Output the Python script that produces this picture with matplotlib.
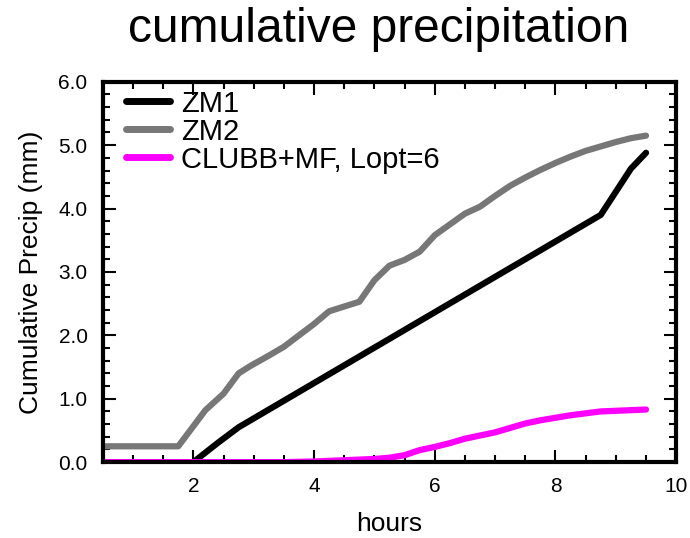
import numpy as np
import matplotlib
matplotlib.use("Agg")
from matplotlib import pyplot as plt
from matplotlib.ticker import MultipleLocator, FormatStrFormatter

plt.rcParams['font.family'] = ['Liberation Sans', 'DejaVu Sans']

# ZM1 (black)
zm1_hours = [0.5, 1.0, 1.5, 2.0, 2.4, 2.75, 8.75, 9.25, 9.5]
zm1_precip = [0.0, 0.0, 0.0, 0.0, 0.30, 0.55, 3.90, 4.63, 4.88]

# ZM2 (gray)
zm2_hours = [0.5, 1.0, 1.5, 1.75, 2.2, 2.5, 2.75, 2.95, 3.25, 3.5, 3.75, 4.0, 4.25, 4.75, 5.0,
             5.25, 5.5, 5.75, 6.0, 6.25, 6.5, 6.75, 7.0, 7.25, 7.5, 7.75, 8.0, 8.25, 8.5,
             8.75, 9.0, 9.25, 9.5]
zm2_precip = [0.25, 0.25, 0.25, 0.25, 0.82, 1.08, 1.40, 1.52, 1.68, 1.82, 2.00, 2.18, 2.38, 2.53, 2.87,
              3.10, 3.19, 3.32, 3.58, 3.75, 3.92, 4.03, 4.20, 4.36, 4.49, 4.61, 4.72, 4.82, 4.91,
              4.98, 5.05, 5.11, 5.15]

# CLUBB+MF, Lopt=6 (magenta)
clubb_hours = [0.5, 1.5, 2.5, 3.5, 4.0, 4.5, 5.0, 5.25, 5.5, 5.75, 6.0, 6.25, 6.5, 6.75, 7.0,
               7.25, 7.5, 7.75, 8.0, 8.25, 8.5, 8.75, 9.0, 9.25, 9.5]
clubb_precip = [0.0, 0.0, 0.0, 0.0, 0.01, 0.03, 0.05, 0.07, 0.11, 0.19, 0.24, 0.30, 0.37, 0.42, 0.47,
                0.54, 0.61, 0.66, 0.70, 0.74, 0.77, 0.80, 0.81, 0.82, 0.83]

fig = plt.figure(figsize=(6.9, 5.38), dpi=100)
ax = fig.add_axes([0.149, 0.141, 0.831, 0.707])

lw = 4.5
ax.plot(zm1_hours, zm1_precip, color='black', lw=lw, label='ZM1', solid_capstyle='round')
ax.plot(zm2_hours, zm2_precip, color='#777777', lw=lw, label='ZM2', solid_capstyle='round')
ax.plot(clubb_hours, clubb_precip, color='#ff00ff', lw=lw, label='CLUBB+MF, Lopt=6',
        solid_capstyle='round')

ax.set_xlim(0.5, 10)
ax.set_ylim(0, 6)
ax.xaxis.set_major_locator(MultipleLocator(2))
ax.xaxis.set_minor_locator(MultipleLocator(0.5))
ax.yaxis.set_major_locator(MultipleLocator(1))
ax.yaxis.set_minor_locator(MultipleLocator(0.2))
ax.yaxis.set_major_formatter(FormatStrFormatter('%.1f'))

ax.tick_params(which='both', direction='in', top=True, right=True, labelsize=15, width=1.5)
ax.tick_params(which='major', length=9)
ax.tick_params(axis='x', which='major', pad=11)
ax.tick_params(axis='y', which='major', pad=11)
ax.tick_params(which='minor', length=5)
for s in ax.spines.values():
    s.set_linewidth(3)

ax.set_xlabel('hours', fontsize=19, labelpad=11)
ax.set_ylabel('Cumulative Precip (mm)', fontsize=19, labelpad=11)
fig.text(0.549, 0.922, 'cumulative precipitation', fontsize=34.5, ha='center', va='baseline')

leg = ax.legend(loc='upper left', frameon=False, fontsize=21, handlelength=1.5,
                handletextpad=0.4, labelspacing=0.0, borderaxespad=0.0,
                bbox_to_anchor=(0.02, 1.01))
for line in leg.get_lines():
    line.set_linewidth(5)

fig.savefig('out.png', dpi=100)
